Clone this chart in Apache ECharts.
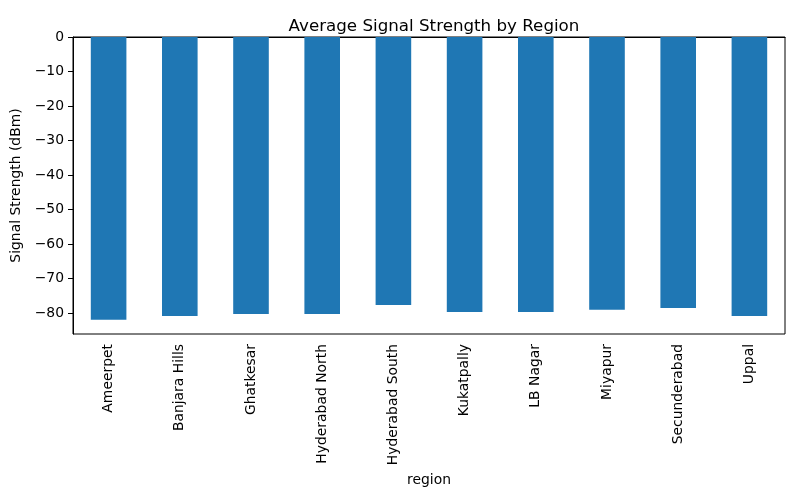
<!DOCTYPE html>
<html>
<head>
<meta charset="utf-8">
<script src="https://cdn.jsdelivr.net/npm/echarts@6/dist/echarts.min.js"></script>
<style>html,body{margin:0;padding:0;background:#fff}#c{width:800px;height:500px}</style>
</head>
<body>
<div id="c"></div>
<script>
const categories = ["Ameerpet","Banjara Hills","Ghatkesar","Hyderabad North","Hyderabad South","Kukatpally","LB Nagar","Miyapur","Secunderabad","Uppal"];
const signalValues = [-81.9,-80.8,-80.2,-80.2,-77.6,-79.6,-79.6,-79.0,-78.5,-80.8];
const yTicks = [0,-10,-20,-30,-40,-50,-60,-70,-80];

const font = "DejaVu Sans";
const chart = echarts.init(document.getElementById('c'), null, {renderer:'canvas'});
chart.setOption({
  animation: false,
  backgroundColor: '#fff',
  textStyle: {fontFamily: font, color: '#000'},
  title: {
    text: 'Average Signal Strength by Region',
    left: 429, top: 13, textAlign: 'center',
    textStyle: {fontFamily: font, fontSize: 16.7, fontWeight: 'normal', color: '#000'}
  },
  grid: {left: 73, right: 15, top: 37, bottom: 166, show: true, borderColor: '#000', borderWidth: 1, backgroundColor: 'transparent'},
  xAxis: {
    type: 'category',
    data: categories,
    name: 'region',
    nameLocation: 'middle',
    nameGap: 136,
    nameTextStyle: {fontFamily: font, fontSize: 13.9, color: '#000'},
    axisLine: {show: true, lineStyle: {color: '#000', width: 1}},
    axisTick: {show: true, alignWithLabel: true, length: 5, lineStyle: {color: '#000'}},
    axisLabel: {rotate: 90, margin: 10, fontFamily: font, fontSize: 13.9, color: '#000', interval: 0},
    splitLine: {show: false}
  },
  yAxis: {
    type: 'value',
    min: -86.0, max: 0,
    name: 'Signal Strength (dBm)',
    nameLocation: 'middle',
    nameGap: 48,
    nameRotate: 90,
    nameTextStyle: {fontFamily: font, fontSize: 13.9, color: '#000'},
    axisLine: {show: true, lineStyle: {color: '#000', width: 1}},
    axisTick: {show: true, length: 5, lineStyle: {color: '#000'}, customValues: yTicks},
    axisLabel: {margin: 9, fontFamily: font, fontSize: 13.9, color: '#000', customValues: yTicks,
      formatter: v => (v < 0 ? '\u2212' + Math.abs(v) : String(v))},
    splitLine: {show: false}
  },
  series: [{
    type: 'bar',
    data: signalValues,
    barWidth: '50%',
    itemStyle: {color: '#1f77b4'}
  }]
});
</script>
</body>
</html>
